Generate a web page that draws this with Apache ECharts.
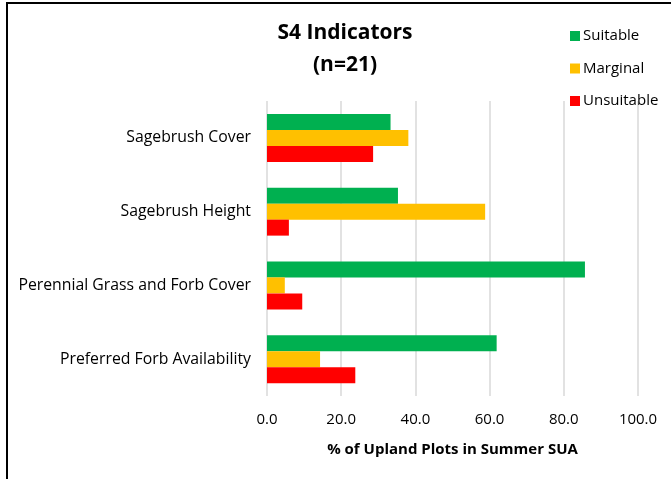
<!DOCTYPE html>
<html>
<head>
<meta charset="utf-8">
<script src="https://cdn.jsdelivr.net/npm/echarts@6/dist/echarts.min.js"></script>
<style>
  html, body { margin: 0; padding: 0; background: #fff; }
  #chart { width: 671px; height: 479px; }
</style>
</head>
<body>
<div id="chart"></div>
<script>
// indicators, top to bottom
var categories = ['Sagebrush Cover', 'Sagebrush Height', 'Perennial Grass and Forb Cover', 'Preferred Forb Availability'];
var suitable = [33.3, 35.3, 85.7, 61.9];
var marginal = [38.1, 58.8, 4.8, 14.3];
var unsuitable = [28.6, 5.9, 9.5, 23.8];
var xTicks = [0, 20, 40, 60, 80, 100];

var font = '"Open Sans", Lato, sans-serif';
var mychart = echarts.init(document.getElementById('chart'));

function barSeries(name, data, color) {
    return {
        name: name,
        type: 'bar',
        data: data,
        barWidth: 16,
        barGap: '0%',
        itemStyle: {color: color},
        silent: true
    };
}

var option = {
    animation: false,
    textStyle: {fontFamily: font},
    title: {
        text: 'S4 Indicators\n(n=21)',
        left: 340,
        textAlign: 'center',
        top: 12,
        textStyle: {fontFamily: font, fontSize: 21, fontWeight: 'bold', color: '#000', lineHeight: 32}
    },
    legend: {
        orient: 'vertical',
        left: 565,
        top: 21,
        itemWidth: 10,
        itemHeight: 10,
        itemGap: 12.5,
        icon: 'rect',
        textStyle: {fontFamily: font, fontSize: 15, color: '#000', lineHeight: 20, padding: [0, 0, 0, -2]},
        data: ['Suitable', 'Marginal', 'Unsuitable']
    },
    grid: {left: 267, right: 33, top: 101, bottom: 83},
    xAxis: {
        type: 'value',
        min: 0,
        max: xTicks[xTicks.length - 1],
        interval: 20,
        axisLine: {show: false},
        axisTick: {show: false},
        splitLine: {lineStyle: {color: '#d9d9d9', width: 1.5}},
        axisLabel: {
            fontFamily: font, fontSize: 15, color: '#000', margin: 16,
            formatter: function (v) { return v.toFixed(1); }
        },
        name: '% of Upland Plots in Summer SUA',
        nameLocation: 'middle',
        nameGap: 46,
        nameTextStyle: {fontFamily: font, fontSize: 15, fontWeight: 'bold', color: '#000'}
    },
    yAxis: {
        type: 'category',
        inverse: true,
        data: categories,
        axisLine: {show: false},
        axisTick: {show: false},
        axisLabel: {fontFamily: font, fontSize: 15.8, color: '#000', margin: 16}
    },
    series: [
        barSeries('Suitable', suitable, '#00b050'),
        barSeries('Marginal', marginal, '#ffc000'),
        barSeries('Unsuitable', unsuitable, '#ff0000')
    ],
    graphic: [{
        type: 'rect',
        shape: {x: 7, y: 3, width: 700, height: 520},
        style: {fill: 'none', stroke: '#000', lineWidth: 2},
        silent: true
    }]
};

mychart.setOption(option);
</script>
</body>
</html>
